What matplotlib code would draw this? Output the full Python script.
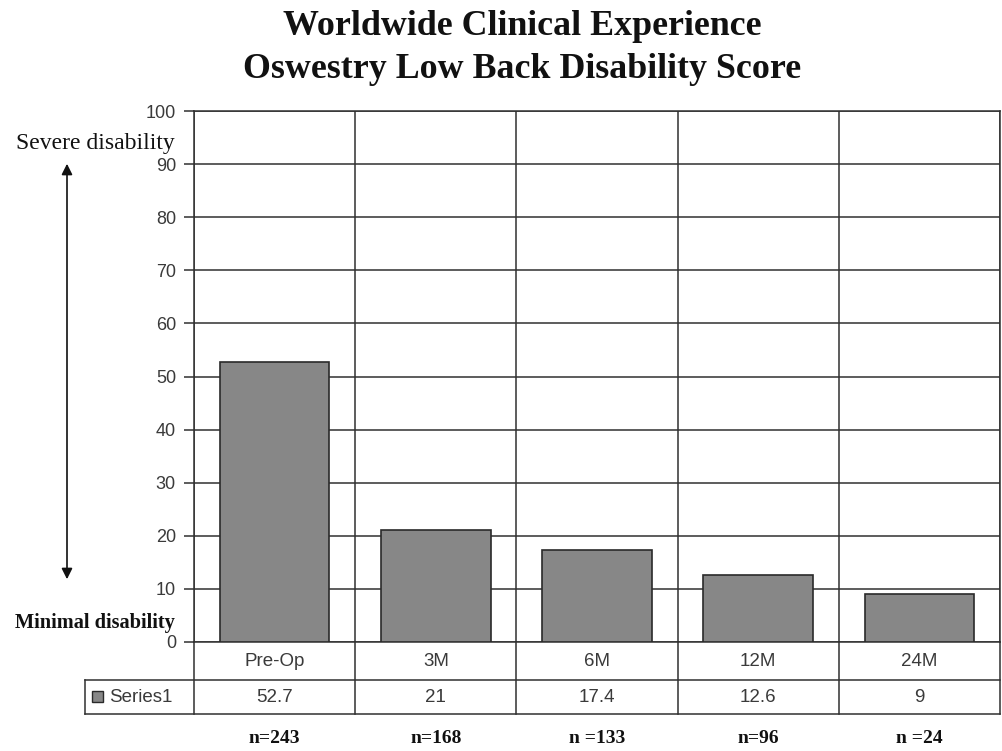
import matplotlib
matplotlib.use("Agg")
import matplotlib.pyplot as plt
from matplotlib.transforms import blended_transform_factory
from matplotlib.patches import Rectangle, FancyArrowPatch

categories = ["Pre-Op", "3M", "6M", "12M", "24M"]
values = [52.7, 21, 17.4, 12.6, 9]
value_labels = ["52.7", "21", "17.4", "12.6", "9"]
n_labels = ["n=243", "n=168", "n =133", "n=96", "n =24"]
series_name = "Series1"
yticks = list(range(0, 101, 10))

SERIF = ["Liberation Serif", "DejaVu Serif"]
SANS = ["Liberation Sans", "DejaVu Sans"]
GRID = "#303030"
TXT = "#3a3a3a"

fig = plt.figure(figsize=(10.02, 7.51), dpi=100)
ax = fig.add_axes([194/1002, 1-642/751, 806/1002, 531/751])

x = list(range(len(categories)))
ax.bar(x, values, width=0.68, color="#878787", edgecolor="#2a2a2a", linewidth=1.2, zorder=3)
ax.set_xlim(-0.5, len(categories) - 0.5)
ax.set_ylim(0, 100)
ax.set_yticks(yticks)
ax.set_yticklabels([str(t) for t in yticks], fontfamily=SANS, fontsize=13, color=TXT)
ax.tick_params(axis="y", length=7, width=1.1, color=GRID, pad=6)
ax.set_xticks([])
for t in yticks:
    ax.axhline(t, color=GRID, lw=1.1, zorder=1)
for b in [i - 0.5 for i in range(len(categories) + 1)]:
    ax.axvline(b, color=GRID, lw=1.1, zorder=1)
for s in ax.spines.values():
    s.set_color(GRID)
    s.set_linewidth(1.1)

# table below the plot
tr = blended_transform_factory(ax.transData, ax.transAxes)
px = 1 / 531.0
y0 = 0.0
y1 = -38 * px
y2 = -72 * px
xl = -0.5
xr = len(categories) - 0.5
leg_left = -0.5 - 109 / 161.2
lkw = dict(color=GRID, lw=1.1, transform=tr, clip_on=False)
ax.plot([leg_left, xr], [y1, y1], **lkw)
ax.plot([leg_left, xr], [y2, y2], **lkw)
ax.plot([leg_left, leg_left], [y1, y2], **lkw)
for b in [i - 0.5 for i in range(len(categories) + 1)]:
    ax.plot([b, b], [y0, y2], **lkw)
for i, c in enumerate(categories):
    ax.text(i, (y0 + y1) / 2, c, transform=tr, ha="center", va="center",
            fontfamily=SANS, fontsize=13.5, color=TXT)
    ax.text(i, (y1 + y2) / 2, value_labels[i], transform=tr, ha="center", va="center",
            fontfamily=SANS, fontsize=13.5, color=TXT)
    ax.text(i, -101 * px, n_labels[i], transform=tr, ha="center", va="baseline",
            fontfamily=SERIF, fontsize=14, fontweight="bold", color="#111111")
# legend key
ax.add_patch(Rectangle((leg_left + 7 / 161.2, -60 * px), 11 / 161.2, 11 * px, transform=tr,
                       facecolor="#878787", edgecolor="#2a2a2a", lw=1, clip_on=False))
ax.text(leg_left + 24 / 161.2, (y1 + y2) / 2, series_name, transform=tr, ha="left", va="center",
        fontfamily=SANS, fontsize=13.5, color=TXT)

# title
fig.text(522/1002, 1 - 35/751, "Worldwide Clinical Experience", ha="center", va="baseline",
         fontfamily=SERIF, fontsize=25.8, fontweight="bold", color="#111111")
fig.text(522/1002, 1 - 78/751, "Oswestry Low Back Disability Score", ha="center", va="baseline",
         fontfamily=SERIF, fontsize=25.8, fontweight="bold", color="#111111")

# side annotations
fig.text(95/1002, 1 - 149/751, "Severe disability", ha="center", va="baseline",
         fontfamily=SERIF, fontsize=17, color="#111111")
fig.text(95/1002, 1 - 628/751, "Minimal disability", ha="center", va="baseline",
         fontfamily=SERIF, fontsize=14.7, fontweight="bold", color="#111111")
fig.add_artist(FancyArrowPatch(
    (67/1002, 1 - 161/751), (67/1002, 1 - 582/751), transform=fig.transFigure,
    arrowstyle="<|-|>", mutation_scale=16, color="#111111", lw=1.2))

fig.savefig("out.png", dpi=100, facecolor="white")
